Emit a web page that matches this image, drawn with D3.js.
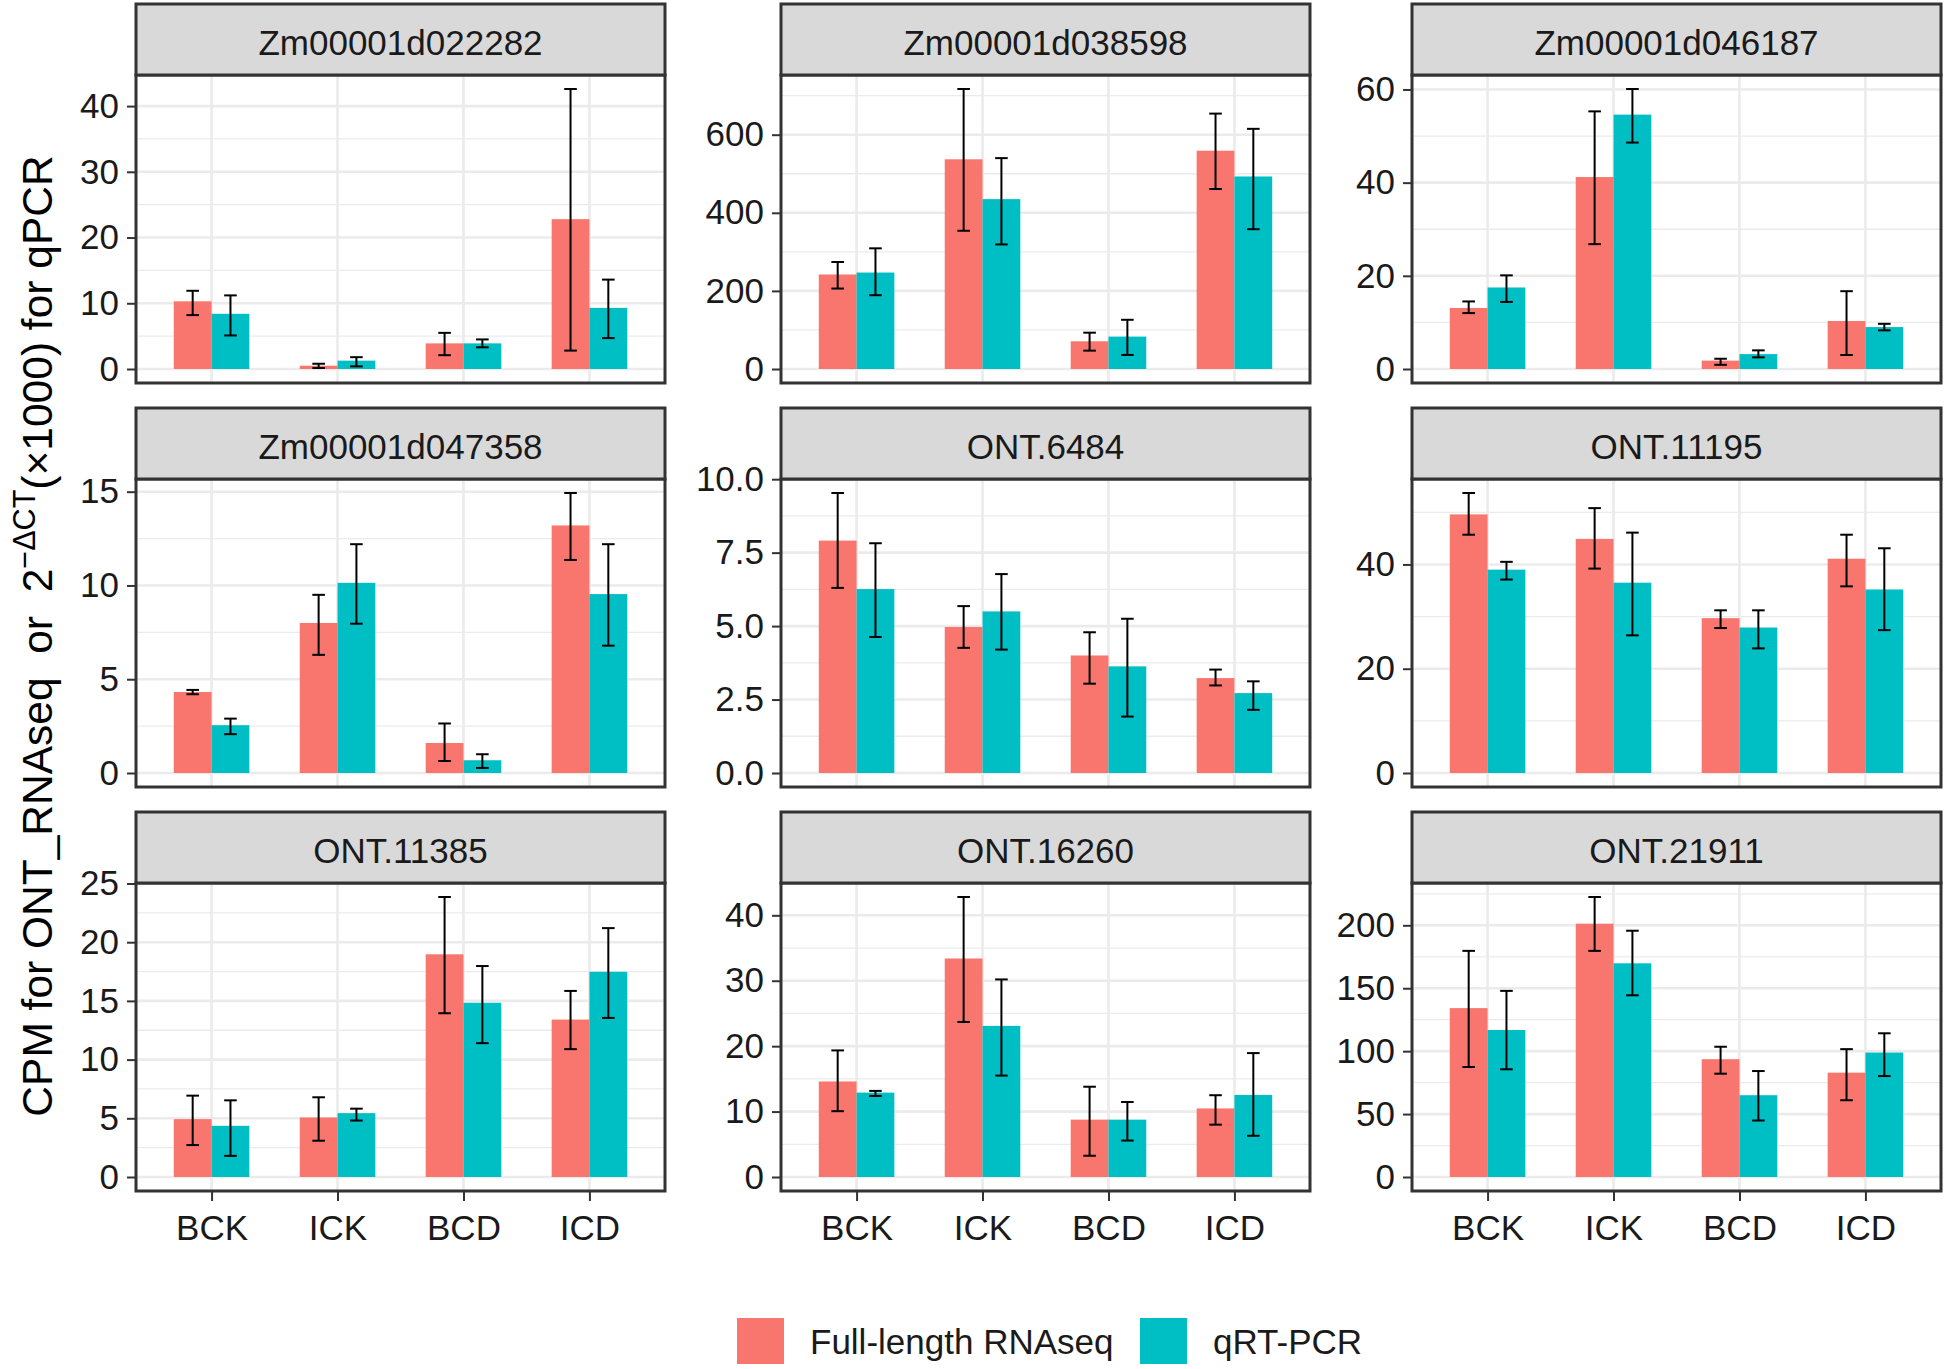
<!DOCTYPE html>
<html><head><meta charset="utf-8">
<script src="https://cdn.jsdelivr.net/npm/d3@7"></script>
<style>
body{margin:0;background:#fff}
svg{display:block}
text{font-family:"Liberation Sans",Arial,Helvetica,sans-serif}
</style>
</head><body>
<svg id="chart" width="1944" height="1369"></svg>
<script>
// ---------------- data ----------------
const genes = ["Zm00001d022282","Zm00001d038598","Zm00001d046187",
               "Zm00001d047358","ONT.6484","ONT.11195",
               "ONT.11385","ONT.16260","ONT.21911"];
const categories = ["BCK","ICK","BCD","ICD"];
const seriesNames = ["Full-length RNAseq","qRT-PCR"];

// Full-length RNAseq (CPM): mean, lower, upper per gene x category
const rnaseqMean = [
  [10.3, 0.5, 3.9, 22.8],
  [242, 537, 71, 559],
  [13.1, 41.2, 1.8, 10.3],
  [4.32, 8.0, 1.6, 13.2],
  [7.91, 4.97, 4.0, 3.23],
  [49.6, 44.9, 29.7, 41.1],
  [4.93, 5.07, 18.97, 13.41],
  [14.6, 33.4, 8.77, 10.48],
  [134.2, 201.3, 93.6, 82.9]
];
const rnaseqLow = [
  [8.2, 0.15, 2.1, 2.8],
  [206, 354, 47, 461],
  [12.0, 26.8, 0.9, 3.0],
  [4.2, 6.3, 0.64, 11.36],
  [6.30, 4.26, 3.04, 2.98],
  [45.7, 39.2, 27.8, 35.8],
  [2.72, 3.09, 13.95, 10.89],
  [10.06, 23.7, 3.25, 8.0],
  [87.4, 179.7, 82.1, 61.0]
];
const rnaseqHigh = [
  [11.9, 0.8, 5.5, 42.6],
  [274, 717, 93, 654],
  [14.5, 55.3, 2.2, 16.7],
  [4.43, 9.5, 2.64, 14.93],
  [9.53, 5.68, 4.79, 3.52],
  [53.7, 50.8, 31.2, 45.7],
  [6.93, 6.79, 23.85, 15.85],
  [19.35, 42.8, 13.8, 12.5],
  [179.7, 222.5, 103.5, 101.6]
];
// qRT-PCR (2^-dCT x1000)
const qpcrMean = [
  [8.4, 1.27, 3.9, 9.3],
  [247, 435, 83, 493],
  [17.5, 54.6, 3.2, 9.0],
  [2.55, 10.14, 0.68, 9.54],
  [6.26, 5.50, 3.63, 2.72],
  [39.0, 36.5, 27.9, 35.2],
  [4.36, 5.44, 14.84, 17.48],
  [12.9, 23.1, 8.77, 12.54],
  [116.8, 169.8, 65.0, 98.9]
];
const qpcrLow = [
  [5.1, 0.4, 3.3, 4.7],
  [189, 319, 36, 358],
  [14.4, 48.6, 2.5, 8.3],
  [2.07, 7.96, 0.27, 6.79],
  [4.63, 4.20, 1.92, 2.15],
  [37.1, 26.4, 23.9, 27.4],
  [1.8, 4.81, 11.40, 13.55],
  [12.39, 15.5, 5.57, 6.3],
  [85.6, 144.4, 44.9, 80.2]
];
const qpcrHigh = [
  [11.2, 1.8, 4.5, 13.6],
  [309, 540, 126, 615],
  [20.1, 60.1, 4.0, 9.7],
  [2.9, 12.2, 1.0, 12.2],
  [7.82, 6.77, 5.25, 3.12],
  [40.5, 46.1, 31.2, 43.1],
  [6.53, 5.82, 17.97, 21.2],
  [13.16, 30.2, 11.46, 18.94],
  [147.9, 195.7, 84.2, 114.2]
];
// y-axis tick labels per panel
const tickLabels = [
  ["0","10","20","30","40"],
  ["0","200","400","600"],
  ["0","20","40","60"],
  ["0","5","10","15"],
  ["0.0","2.5","5.0","7.5","10.0"],
  ["0","20","40"],
  ["0","5","10","15","20","25"],
  ["0","10","20","30","40"],
  ["0","50","100","150","200"]
];

// ---------------- layout / style ----------------
const colors = ["#F8766D","#00BFC4"];
const colLeft = [136, 781, 1412];
const panelW = 529;
const stripTop = [4, 408, 812];
const stripH = 71;
const plotH = 308;
const fsTick = 35, fsStrip = 35, fsTitle = 42.5, fsLegend = 35;
const textCol = "#1a1a1a";

const svg = d3.select("#chart");
svg.append("rect").attr("width",1944).attr("height",1369).attr("fill","#fff");

genes.forEach((g, i) => {
  const r = Math.floor(i/3), c = i%3;
  const x0 = colLeft[c], y0 = stripTop[r] + stripH;
  const gp = svg.append("g").attr("transform", `translate(${x0},${y0})`);

  const rows = categories.map((cat, k) => ({
    cat,
    vals: [
      {s:0, m:rnaseqMean[i][k], lo:rnaseqLow[i][k], hi:rnaseqHigh[i][k]},
      {s:1, m:qpcrMean[i][k], lo:qpcrLow[i][k], hi:qpcrHigh[i][k]}
    ]
  }));
  const allHi = d3.max(rows, d => d3.max(d.vals, v => Math.max(v.hi, v.m)));
  const allLo = Math.min(0, d3.min(rows, d => d3.min(d.vals, v => v.lo)));
  const pad = 0.05*(allHi - allLo);
  const y = d3.scaleLinear().domain([allLo - pad, allHi + pad]).range([plotH, 0]);

  const unit = panelW / (categories.length - 1 + 1.2);
  const x = d3.scalePoint().domain(categories).range([0.6*unit, panelW - 0.6*unit]);
  const barW = 0.3*unit;

  // grid
  const ticks = tickLabels[i].map(Number);
  const step = ticks[1]-ticks[0];
  const minor = [ticks[0]-step/2];
  ticks.forEach(t => minor.push(t+step/2));
  const [d0,d1] = y.domain();
  gp.selectAll(".minor").data(minor.filter(v => v>d0 && v<d1)).enter().append("line")
    .attr("x1",0).attr("x2",panelW).attr("y1",d=>y(d)).attr("y2",d=>y(d))
    .attr("stroke","#EBEBEB").attr("stroke-width",1.3);
  gp.selectAll(".majorh").data(ticks).enter().append("line")
    .attr("x1",0).attr("x2",panelW).attr("y1",d=>y(d)).attr("y2",d=>y(d))
    .attr("stroke","#EBEBEB").attr("stroke-width",2.6);
  gp.selectAll(".majorv").data(categories).enter().append("line")
    .attr("x1",d=>x(d)).attr("x2",d=>x(d)).attr("y1",0).attr("y2",plotH)
    .attr("stroke","#EBEBEB").attr("stroke-width",2.6);

  // bars
  const cg = gp.selectAll(".cat").data(rows).enter().append("g");
  cg.selectAll("rect").data(d => d.vals.map(v => ({...v, cat:d.cat}))).enter().append("rect")
    .attr("x", d => x(d.cat) + (d.s===0 ? -barW : 0))
    .attr("width", barW)
    .attr("y", d => y(d.m))
    .attr("height", d => y(0) - y(d.m))
    .attr("fill", d => colors[d.s]);
  // error bars
  const capW = 0.1*unit;
  const eb = cg.selectAll(".eb").data(d => d.vals.map(v => ({...v, cat:d.cat}))).enter().append("g");
  const cx = d => x(d.cat) + (d.s===0 ? -barW/2 : barW/2);
  eb.append("line").attr("x1",cx).attr("x2",cx).attr("y1",d=>y(d.lo)).attr("y2",d=>y(d.hi))
    .attr("stroke","#000").attr("stroke-width",2);
  eb.append("line").attr("x1",d=>cx(d)-capW/2).attr("x2",d=>cx(d)+capW/2).attr("y1",d=>y(d.lo)).attr("y2",d=>y(d.lo))
    .attr("stroke","#000").attr("stroke-width",2);
  eb.append("line").attr("x1",d=>cx(d)-capW/2).attr("x2",d=>cx(d)+capW/2).attr("y1",d=>y(d.hi)).attr("y2",d=>y(d.hi))
    .attr("stroke","#000").attr("stroke-width",2);

  // y axis
  const yAxis = d3.axisLeft(y).tickValues(ticks).tickFormat((d,j)=>tickLabels[i][j]).tickSize(9).tickPadding(8);
  const ya = gp.append("g").call(yAxis);
  ya.select(".domain").remove();
  ya.selectAll(".tick line").attr("stroke","#333").attr("stroke-width",2);
  ya.selectAll(".tick text").attr("font-size",fsTick).attr("fill",textCol)
    .attr("font-family",'"Liberation Sans",Arial,sans-serif');

  // x axis only on bottom row
  if (r === 2) {
    const xAxis = d3.axisBottom(x).tickSize(10).tickPadding(14);
    const xa = gp.append("g").attr("transform",`translate(0,${plotH})`).call(xAxis);
    xa.select(".domain").remove();
    xa.selectAll(".tick line").attr("stroke","#333").attr("stroke-width",2);
    xa.selectAll(".tick text").attr("font-size",fsTick).attr("fill",textCol)
      .attr("font-family",'"Liberation Sans",Arial,sans-serif');
  }

  // panel border
  gp.append("rect").attr("x",0).attr("y",0).attr("width",panelW).attr("height",plotH)
    .attr("fill","none").attr("stroke","#333").attr("stroke-width",3);

  // strip
  const sg = svg.append("g").attr("transform",`translate(${x0},${stripTop[r]})`);
  sg.append("rect").attr("width",panelW).attr("height",stripH)
    .attr("fill","#D9D9D9").attr("stroke","#333").attr("stroke-width",3);
  sg.append("text").attr("x",panelW/2).attr("y",stripH/2 + 3).attr("dy","0.36em")
    .attr("text-anchor","middle").attr("font-size",fsStrip).attr("fill",textCol).text(g);
});

// y-axis title
const title = svg.append("text")
  .attr("transform","translate(52,636) rotate(-90)")
  .attr("text-anchor","middle").attr("font-size",fsTitle).attr("fill","#000");
title.append("tspan").text("CPM for ONT_RNAseq\u00A0\u00A0or\u00A0\u00A02");
title.append("tspan").attr("font-size",fsTitle*0.72).attr("dy",-17).text("\u2212\u0394CT");
title.append("tspan").attr("dy",17).text("(\u00D71000) for qPCR");

// legend
const legX = [737, 1140];
const lg = svg.append("g");
seriesNames.forEach((s, k) => {
  lg.append("rect").attr("x",legX[k]).attr("y",1318).attr("width",47).attr("height",46).attr("fill",colors[k]);
  lg.append("text").attr("x",legX[k]+73).attr("y",1341).attr("dy","0.36em")
    .attr("font-size",fsLegend).attr("fill",textCol).text(s);
});
</script>
</body></html>
